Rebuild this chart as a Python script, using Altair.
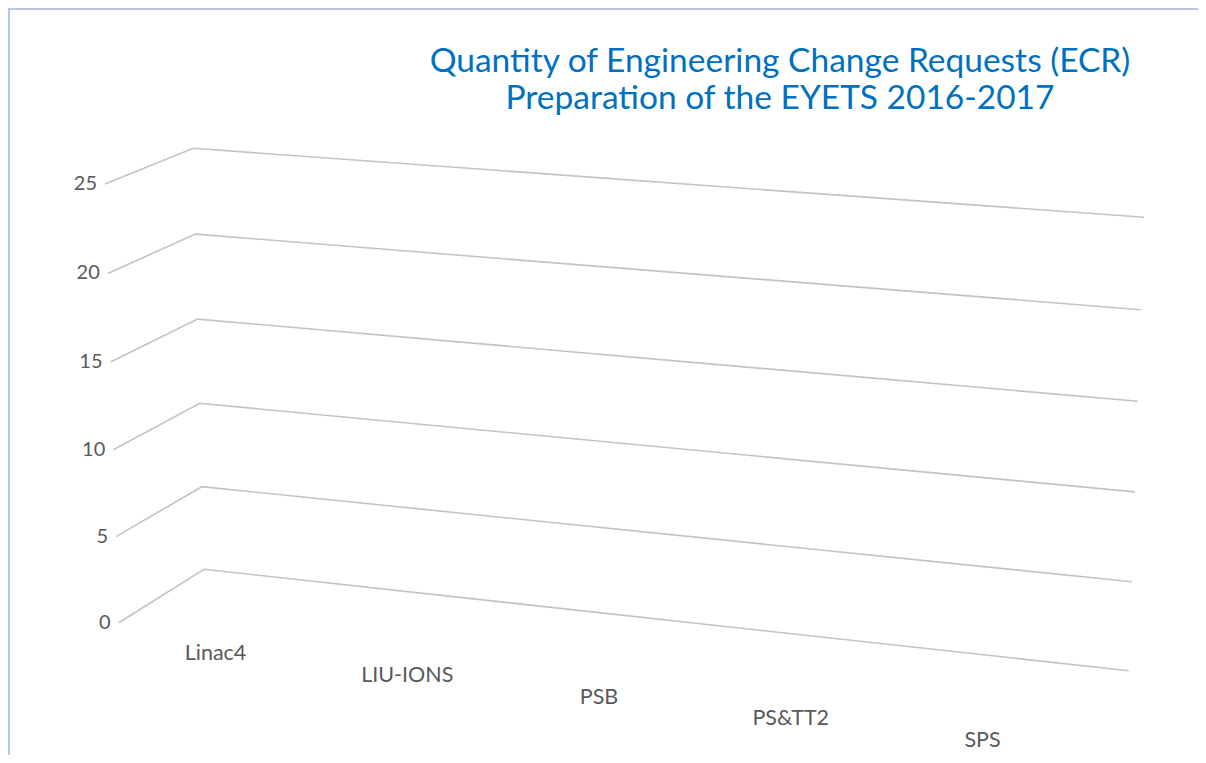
import altair as alt
import pandas as pd

# ---------------- data ----------------
ticks = [0, 5, 10, 15, 20, 25]
categories = ["Linac4", "LIU-IONS", "PSB", "PS&TT2", "SPS"]
title_lines = ["Quantity of Engineering Change Requests (ECR)",
               "Preparation of the EYETS 2016-2017"]

# ---------------- 3-D frame (perspective anchors, page pixels) ----------------
W, H = 1190, 747
M = 8  # page margin
YMAX = max(ticks)
PERSP = 1.024  # perspective factor along the value axis
# node: (pos at value 0, pos at value YMAX)
FRAME = [
    ((118.7, 622.7), (105.0, 184.0)),   # front-left edge of side wall
    ((204.0, 569.3), (193.3, 148.3)),   # back-left corner
    ((1128.7, 670.7), (1144.0, 217.3)), # back-right end
]
LABEL_FIRST = (215.5, 654.0)
LABEL_LAST = (982.5, 741.0)
TITLE_X = 780.0
TITLE_Y = (62.0, 99.0)

rows = []
for v in ticks:
    for n, ((x0, y0), (x1, y1)) in enumerate(FRAME):
        rows.append({"value": v, "node": n, "x0": x0, "y0": y0, "x1": x1, "y1": y1})
grid_df = pd.DataFrame(rows)

cat_df = pd.DataFrame({"cat": categories, "i": list(range(len(categories)))})
title_df = pd.DataFrame({"t": title_lines, "line": [0, 1]})

xs = alt.Scale(domain=[0, W], nice=False, zero=False)
ys = alt.Scale(domain=[0, H], nice=False, zero=False, reverse=True)
X = lambda f: alt.X(f, type="quantitative", scale=xs, axis=None)
Y = lambda f: alt.Y(f, type="quantitative", scale=ys, axis=None)

FONT = "Lato"
GREY = "#595959"

grid_base = alt.Chart(grid_df).transform_calculate(
    u=f"datum.value / {YMAX}"
).transform_calculate(
    g=f"datum.u / ({PERSP} - ({PERSP} - 1) * datum.u)"
).transform_calculate(
    px=f"datum.x0 + (datum.x1 - datum.x0) * datum.g - {M}",
    py=f"datum.y0 + (datum.y1 - datum.y0) * datum.g - {M}",
)

gridlines = grid_base.mark_line(color="#c3c3c3", strokeWidth=1.6).encode(
    x=X("px"), y=Y("py"), detail="value:N", order="node:Q"
)

tick_labels = grid_base.transform_filter("datum.node == 0").mark_text(
    align="right", baseline="middle", dx=-8, fontSize=20, font=FONT, color=GREY
).encode(x=X("px"), y=Y("py"), text="value:Q")

n = len(categories)
cat_labels = alt.Chart(cat_df).transform_calculate(
    px=f"{LABEL_FIRST[0]} + ({LABEL_LAST[0] - LABEL_FIRST[0]}) * datum.i / {n - 1} - {M}",
    py=f"{LABEL_FIRST[1]} + ({LABEL_LAST[1] - LABEL_FIRST[1]}) * datum.i / {n - 1} - {M}",
).mark_text(
    align="center", baseline="middle", fontSize=21.5, font=FONT, color=GREY
).encode(x=X("px"), y=Y("py"), text="cat:N")

title = alt.Chart(title_df).transform_calculate(
    px=f"{TITLE_X} - {M}",
    py=f"{TITLE_Y[0]} + ({TITLE_Y[1] - TITLE_Y[0]}) * datum.line - {M}",
).mark_text(
    align="center", baseline="middle", fontSize=33.5, font=FONT, color="#0070C0"
).encode(x=X("px"), y=Y("py"), text="t:N")

one = alt.Data(values=[{}])
border_left = alt.Chart(one).mark_rule(color="#b4c7e7", strokeWidth=2).encode(
    x=alt.value(1), y=alt.value(0), y2=alt.value(H)
)
border_top = alt.Chart(one).mark_rule(color="#b4c7e7", strokeWidth=2).encode(
    x=alt.value(0), x2=alt.value(W), y=alt.value(1)
)

chart = alt.layer(
    border_left, border_top, gridlines, tick_labels, cat_labels, title
).properties(
    width=W, height=H, autosize=alt.AutoSizeParams(type="none"), padding=0,
    background="white"
).configure_view(stroke=None)

chart.save("out.html", embed_options={"renderer": "svg", "actions": False})
